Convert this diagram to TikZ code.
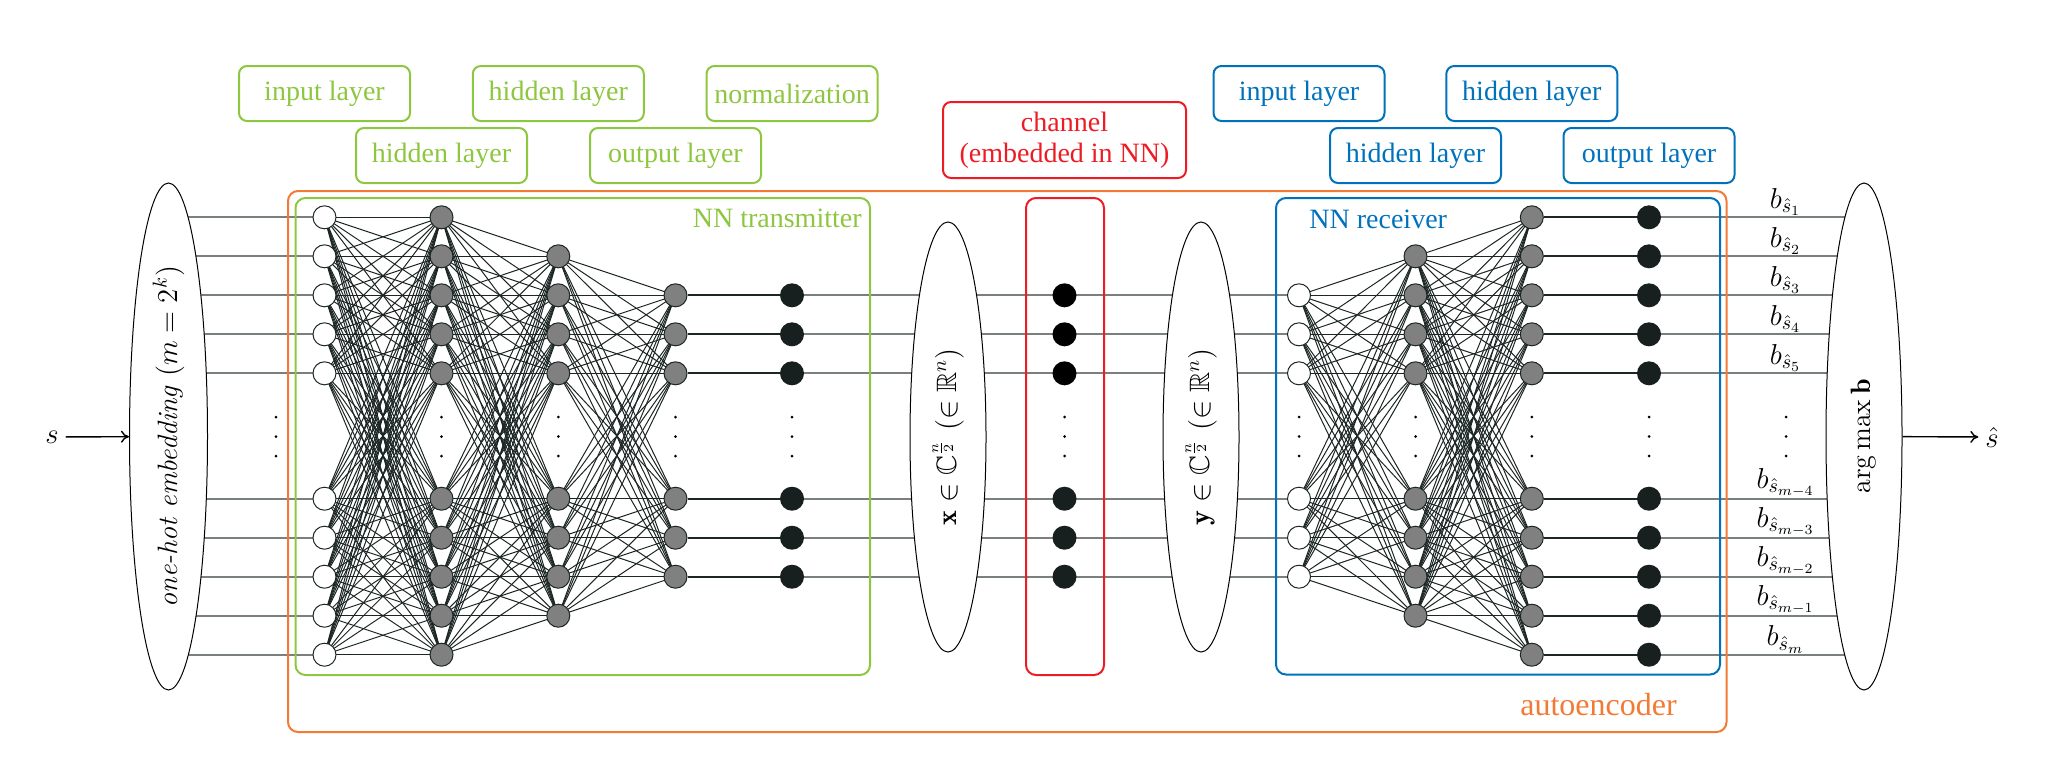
\documentclass[tikz,border=0pt]{standalone}
\usepackage{amsmath,amssymb}
\usepackage{fontspec}
\newfontfamily\tnr{Liberation Serif}
\usetikzlibrary{shapes.geometric,arrows.meta}
\pgfdeclarelayer{bg}
\pgfsetlayers{bg,main}
\definecolor{cgreen}{RGB}{141,198,63}
\definecolor{corange}{RGB}{242,122,52}
\definecolor{cred}{RGB}{237,28,36}
\definecolor{cblue}{RGB}{0,114,188}
\definecolor{cdark}{RGB}{28,38,36}
\definecolor{cnode}{RGB}{128,128,128}
\definecolor{cblack}{RGB}{23,32,30}
\definecolor{crow}{RGB}{122,128,126}
\begin{document}
\begin{tikzpicture}[x=0.5pt,y=-0.5pt,
  every node/.style={font=\fontsize{14}{16}\selectfont},
  neuron/.style={circle,draw=cdark,line width=0.5pt,minimum size=11.5pt,inner sep=0pt},
  inneuron/.style={neuron,fill=white},
  hidneuron/.style={neuron,fill=cnode},
  normneuron/.style={circle,fill=cblack,minimum size=12pt,inner sep=0pt},
  chneuron/.style={circle,fill=black,minimum size=12pt,inner sep=0pt},
  mesh/.style={cdark,line width=0.5pt},
  rowline/.style={crow,line width=0.9pt},
  normline/.style={cdark,line width=1pt},
  layerbox/.style={draw,rounded corners=4pt,line width=1pt,minimum width=85.5pt,minimum height=27.5pt,inner sep=0pt,align=center,font=\tnr\fontsize{14}{15.5}\selectfont},
  title/.style={inner sep=0pt,font=\tnr\fontsize{14}{16}\selectfont},
  bigell/.style={ellipse,draw=black,fill=white,line width=0.5pt,inner sep=0pt},
  vdot/.style={circle,fill=black,inner sep=0pt,minimum size=1.5pt},
  groupbox/.style={line width=1pt,rounded corners=5pt},
  arr/.style={-{To[length=4pt,width=6pt]},line width=0.7pt}
]
\useasboundingbox (0,0) rectangle (2060,762);
\def\allrows{1/217.3,2/256.3,3/295.3,4/334.3,5/373.3,6/498.7,7/537.7,8/576.7,9/615.7,10/654.7}
\def\midrows{2/256.3,3/295.3,4/334.3,5/373.3,6/498.7,7/537.7,8/576.7,9/615.7}
\def\sixrows{3/295.3,4/334.3,5/373.3,6/498.7,7/537.7,8/576.7}

% group boxes
\draw[groupbox,corange] (288,191) rectangle (1726.5,732);
\draw[groupbox,cgreen] (295.5,198) rectangle (870,675);
\draw[groupbox,cred] (1026,198) rectangle (1104,675);
\draw[groupbox,cblue] (1276,198) rectangle (1720,674.5);

% titles
\node[title,text=cgreen,anchor=east] (ttx) at (862,218) {NN transmitter};
\node[title,text=cblue,anchor=west] (trx) at (1309,219) {NN receiver};
\node[title,text=corange,font=\tnr\fontsize{16}{18}\selectfont] (tae) at (1598.5,705) {autoencoder};

% layer labels
\node[layerbox,draw=cgreen,text=cgreen] (l1) at (324.5,93.5) {input layer};
\node[layerbox,draw=cgreen,text=cgreen] (l2) at (441.5,155.5) {hidden layer};
\node[layerbox,draw=cgreen,text=cgreen] (l3) at (558.3,93.5) {hidden layer};
\node[layerbox,draw=cgreen,text=cgreen] (l4) at (675.5,155.5) {output layer};
\node[layerbox,draw=cgreen,text=cgreen] (l5) at (792,93.5) {normalization};
\node[layerbox,draw=cred,text=cred,minimum width=121.5pt,minimum height=38pt] (lch) at (1064.5,140) {channel\\(embedded in NN)};
\node[layerbox,draw=cblue,text=cblue] (l6) at (1299,93.5) {input layer};
\node[layerbox,draw=cblue,text=cblue] (l7) at (1415.5,155.5) {hidden layer};
\node[layerbox,draw=cblue,text=cblue] (l8) at (1531.8,93.5) {hidden layer};
\node[layerbox,draw=cblue,text=cblue] (l9) at (1649,155.5) {output layer};

% ellipses
\node[bigell,minimum width=39pt,minimum height=253.5pt] (onehot) at (168.5,436.5)
  {\rotatebox{90}{\textit{one-hot embedding} $(m=2^k)$}};
\node[bigell,minimum width=38pt,minimum height=215pt] (xell) at (948,437)
  {\rotatebox{90}{$\mathbf{x}\in\mathbb{C}^{\frac{n}{2}}\ (\in\mathbb{R}^n)$}};
\node[bigell,minimum width=38pt,minimum height=215pt] (yell) at (1201,437)
  {\rotatebox{90}{$\mathbf{y}\in\mathbb{C}^{\frac{n}{2}}\ (\in\mathbb{R}^n)$}};
\node[bigell,minimum width=38pt,minimum height=253.5pt] (argmax) at (1864,436.5)
  {\rotatebox{90}{$\arg\max\mathbf{b}$}};

% input / output symbols
\node (s) at (52,437) {$s$};
\node (shat) at (1992,437) {$\hat{s}$};
\draw[arr] (s) -- (onehot);
\draw[arr] (argmax) -- (shat);

% neurons
\foreach \i/\y in \allrows {
  \node[inneuron] (ti\i) at (324.5,\y) {};
  \node[hidneuron] (th\i) at (441.5,\y) {};
  \node[hidneuron] (rh\i) at (1531.8,\y) {};
  \node[normneuron] (rb\i) at (1649,\y) {};
}
\foreach \i/\y in \midrows {
  \node[hidneuron] (tg\i) at (558.3,\y) {};
  \node[hidneuron] (rg\i) at (1415.5,\y) {};
}
\foreach \i/\y in \sixrows {
  \node[hidneuron] (to\i) at (675.5,\y) {};
  \node[normneuron] (tn\i) at (792,\y) {};
  \node[inneuron] (ri\i) at (1299,\y) {};
}
\foreach \i/\y in {3/295.3,4/334.3,5/373.3} {
  \node[chneuron] (ch\i) at (1064.5,\y) {};
}
\foreach \i/\y in {6/498.7,7/537.7,8/576.7} {
  \node[chneuron,fill=cblack] (ch\i) at (1064.5,\y) {};
}

% output labels
\foreach \i/\y/\t in {1/217.3/1,2/256.3/2,3/295.3/3,4/334.3/4,5/373.3/5,6/498.7/m-4,7/537.7/m-3,8/576.7/m-2,9/615.7/m-1,10/654.7/m} {
  \node[anchor=south,inner sep=0.5pt] (lb\i) at (1785.5,\y) {$b_{\hat{s}_{\t}}$};
}

% vertical dots
\foreach \c/\x in {a/276,b/441.5,c/558.3,d/675.5,e/792,f/1064.5,g/1299,h/1415.5,k/1531.8,l/1649,m/1786} {
  \foreach \j/\y in {1/417,2/436.5,3/456} {
    \node[vdot] (dot\c\j) at (\x,\y) {};
  }
}

% connections (behind)
\begin{pgfonlayer}{bg}
  \foreach \a in {1,...,10} {
    \draw[rowline] (onehot.center |- ti\a) -- (ti\a.center);
    \foreach \b in {1,...,10} \draw[mesh] (ti\a.center) -- (th\b.center);
    \foreach \b in {2,...,9} \draw[mesh] (th\a.center) -- (tg\b.center);
  }
  \foreach \a in {2,...,9} {
    \foreach \b in {3,...,8} \draw[mesh] (tg\a.center) -- (to\b.center);
    \foreach \b in {1,...,10} \draw[mesh] (rg\a.center) -- (rh\b.center);
  }
  \foreach \a in {3,...,8} {
    \draw[normline] (to\a) -- (tn\a);
    \draw[rowline] (tn\a.center) -- (ri\a.center);
    \foreach \b in {2,...,9} \draw[mesh] (ri\a.center) -- (rg\b.center);
  }
  \foreach \a in {1,...,10} {
    \draw[normline] (rh\a) -- (rb\a);
    \draw[rowline] (rb\a.center) -- (argmax.center |- rb\a);
  }
\end{pgfonlayer}
\end{tikzpicture}
\end{document}
